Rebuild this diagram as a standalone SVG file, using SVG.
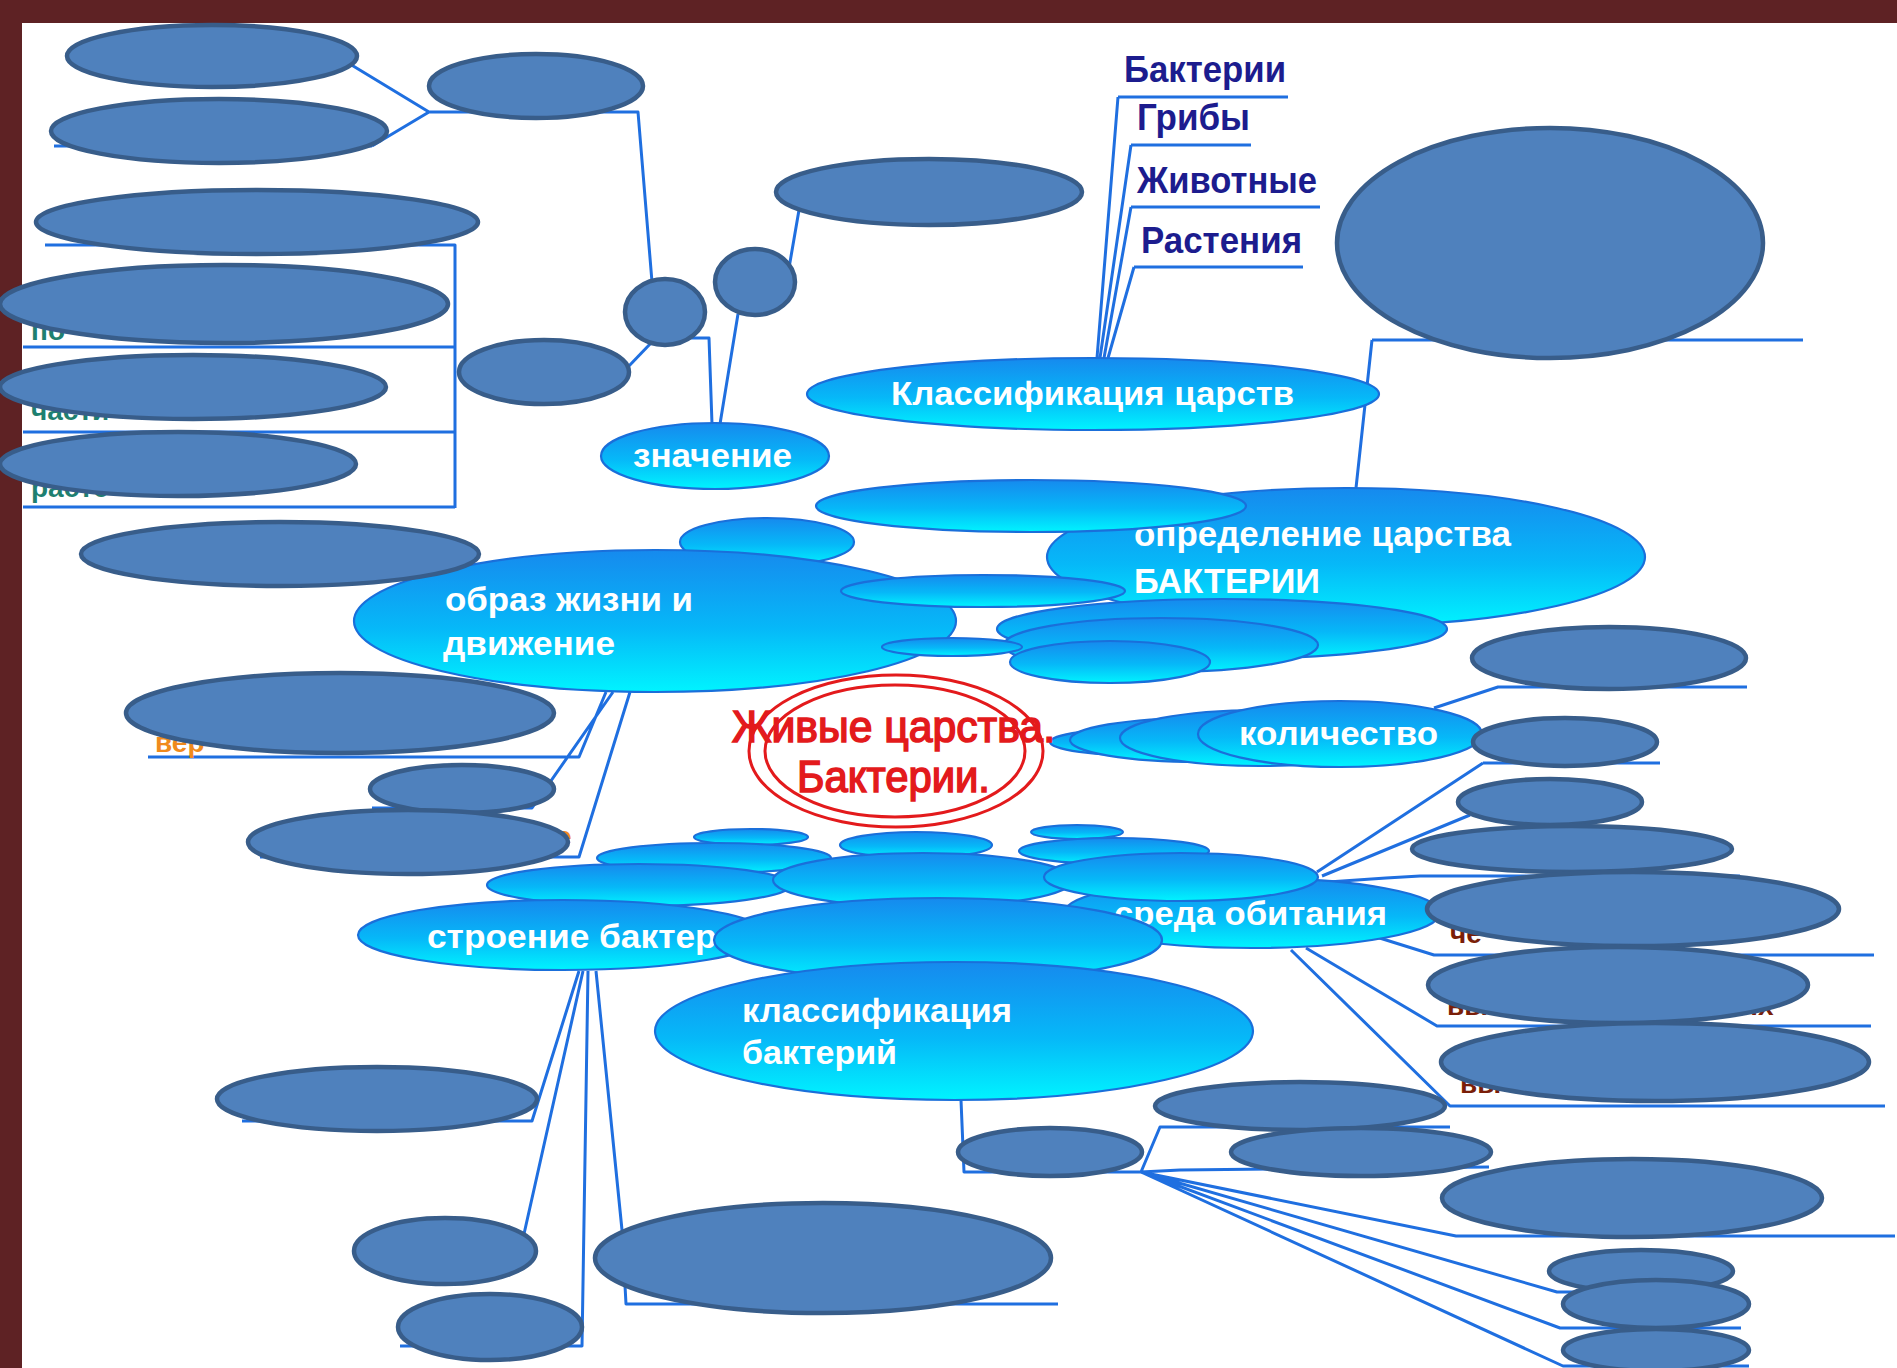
<svg xmlns="http://www.w3.org/2000/svg" width="1897" height="1368" viewBox="0 0 1897 1368">
<defs>
<linearGradient id="g" x1="0" y1="0" x2="0" y2="1">
<stop offset="0" stop-color="#168AEE"/>
<stop offset="0.55" stop-color="#06B8F8"/>
<stop offset="1" stop-color="#00F4FF"/>
</linearGradient>
<style>
.cov{fill:#4F81BD;stroke:#385D8A;stroke-width:4.5}
.bub{fill:url(#g);stroke:#1A6FDA;stroke-width:2.2}
.con{fill:none;stroke:#1F6FE0;stroke-width:3;stroke-linejoin:round}
.lbl{font-family:"Liberation Sans",Arial,sans-serif;font-weight:bold;fill:#FFFFFF;font-size:33px}
.nav{font-family:"Liberation Sans",Arial,sans-serif;font-weight:bold;fill:#1C1C8E;font-size:36px}
.frg{font-family:"Liberation Sans",Arial,sans-serif;font-weight:bold;font-size:28px}
.red{font-family:"Liberation Sans",Arial,sans-serif;fill:#E31A1C;stroke:#E31A1C;stroke-width:1.6;font-size:44px}
</style>
</defs>
<rect x="0" y="0" width="1897" height="1368" fill="#5E2224"/>
<rect x="22" y="23" width="1875" height="1345" fill="#FFFFFF"/>

<g id="connectors">
<path class="con" d="M340,58 L429,112 M372,146 L429,112 M54,146 L372,146 M429,112 L638,112 L652,282"/>
<path class="con" d="M627,368 L652,342"/>
<path class="con" d="M45,245 L455,245 L455,508 M23,347 L455,347 M23,432 L455,432 M23,507 L455,507"/>
<path class="con" d="M688,338 L709,338 L712,424 M738,314 L720,424 M799,210 L789,268"/>
<path class="con" d="M1118,97 L1288,97 M1131,145 L1251,145 M1131,207 L1320,207 M1134,267 L1303,267"/>
<path class="con" d="M1118,97 L1097,358 M1131,145 L1100,358 M1131,207 L1104,358 M1134,267 L1108,358"/>
<path class="con" d="M1372,340 L1803,340 M1372,340 L1356,488"/>
<path class="con" d="M606,692 L579,757 L148,757 M613,692 L532,808 L372,808 M630,692 L579,857 L260,857"/>
<path class="con" d="M1434,708 L1498,687 L1747,687 M1483,763 L1660,763 M1483,763 L1317,872 M1470,815 L1322,876"/>
<path class="con" d="M1328,882 L1386,878 L1420,876 L1740,876 M1370,935 L1434,955 L1874,955 M1306,948 L1437,1026 L1871,1026 M1291,950 L1450,1106 L1885,1106"/>
<path class="con" d="M579,971 L532,1121 L242,1121 M583,971 L524,1234 M588,971 L582,1346 L400,1346 M596,971 L622,1230 L626,1304 L1058,1304"/>
<path class="con" d="M961,1100 L964,1172 L1141,1172 M1141,1172 L1160,1127 L1450,1127 M1141,1172 L1180,1170 L1489,1167 M1141,1172 L1456,1236 L1895,1236 M1141,1172 L1557,1292 L1727,1292 M1141,1172 L1560,1328 L1741,1328 M1141,1172 L1563,1366 L1749,1366"/>
</g>

<g id="node-kingdoms">
<text class="nav" x="1124" y="82" textLength="162" lengthAdjust="spacingAndGlyphs">Бактерии</text>
<text class="nav" x="1137" y="130" textLength="113" lengthAdjust="spacingAndGlyphs">Грибы</text>
<text class="nav" x="1137" y="193" textLength="180" lengthAdjust="spacingAndGlyphs">Животные</text>
<text class="nav" x="1141" y="253" textLength="161" lengthAdjust="spacingAndGlyphs">Растения</text>
</g>

<g id="node-klassifikatsiya-tsarstv">
<ellipse class="bub" cx="1093" cy="394" rx="286" ry="36"/>
<text class="lbl" x="891" y="405" textLength="403" lengthAdjust="spacingAndGlyphs">Классификация царств</text>
</g>

<g id="node-znachenie">
<ellipse class="bub" cx="715" cy="456" rx="114" ry="33"/>
<text class="lbl" x="633" y="467" textLength="159" lengthAdjust="spacingAndGlyphs">значение</text>
</g>

<g id="node-upper-cluster">
<ellipse class="bub" cx="767" cy="542" rx="87" ry="24"/>
</g>

<g id="node-opredelenie">
<ellipse class="bub" cx="1346" cy="557" rx="299" ry="69"/>
<text class="lbl" style="font-size:35px" x="1134" y="546" textLength="377" lengthAdjust="spacingAndGlyphs">определение царства</text>
<text class="lbl" style="font-size:35px" x="1134" y="593" textLength="186" lengthAdjust="spacingAndGlyphs">БАКТЕРИИ</text>
</g>

<g id="node-cluster-mid">
<ellipse class="bub" cx="1031" cy="506" rx="215" ry="26"/>
<ellipse class="bub" cx="1222" cy="629" rx="225" ry="30"/>
<ellipse class="bub" cx="1161" cy="645" rx="157" ry="27"/>
<ellipse class="bub" cx="1110" cy="662" rx="100" ry="21"/>
</g>

<g id="node-obraz-zhizni">
<ellipse class="bub" cx="655" cy="621" rx="301" ry="71"/>
<text class="lbl" x="445" y="611" textLength="248" lengthAdjust="spacingAndGlyphs">образ жизни и</text>
<text class="lbl" x="443" y="655" textLength="172" lengthAdjust="spacingAndGlyphs">движение</text>
<ellipse class="bub" cx="983" cy="591" rx="142" ry="16"/>
<ellipse class="bub" cx="952" cy="647" rx="70" ry="9"/>
</g>

<g id="node-kolichestvo">
<ellipse class="bub" cx="1150" cy="742" rx="100" ry="14"/>
<ellipse class="bub" cx="1200" cy="740" rx="130" ry="22"/>
<ellipse class="bub" cx="1260" cy="738" rx="140" ry="28"/>
<ellipse class="bub" cx="1340" cy="734" rx="142" ry="33"/>
<text class="lbl" x="1239" y="745" textLength="199" lengthAdjust="spacingAndGlyphs">количество</text>
</g>

<g id="node-center">
<ellipse cx="896" cy="751" rx="147" ry="76" fill="none" stroke="#E31A1C" stroke-width="3"/>
<ellipse cx="895" cy="751" rx="130" ry="66" fill="none" stroke="#E31A1C" stroke-width="3"/>
<text class="red" x="732" y="742" textLength="323" lengthAdjust="spacingAndGlyphs">Живые царства.</text>
<text class="red" x="797" y="792" textLength="193" lengthAdjust="spacingAndGlyphs">Бактерии.</text>
</g>

<g id="node-lower-cluster">
<ellipse class="bub" cx="751" cy="837" rx="57" ry="8"/>
<ellipse class="bub" cx="714" cy="858" rx="117" ry="15"/>
<ellipse class="bub" cx="916" cy="845" rx="76" ry="13"/>
<ellipse class="bub" cx="1077" cy="832" rx="46" ry="7"/>
<ellipse class="bub" cx="1114" cy="851" rx="95" ry="13"/>
<ellipse class="bub" cx="639" cy="885" rx="152" ry="21"/>
<ellipse class="bub" cx="923" cy="880" rx="150" ry="27"/>
</g>

<g id="node-sreda">
<ellipse class="bub" cx="1252" cy="913" rx="188" ry="35"/>
<text class="lbl" x="1114" y="925" textLength="273" lengthAdjust="spacingAndGlyphs">среда обитания</text>
<ellipse class="bub" cx="1181" cy="877" rx="137" ry="24"/>
</g>

<g id="node-stroenie">
<ellipse class="bub" cx="563" cy="935" rx="205" ry="35"/>
<text class="lbl" x="427" y="948" textLength="333" lengthAdjust="spacingAndGlyphs">строение бактерий</text>
<ellipse class="bub" cx="938" cy="940" rx="224" ry="42"/>
</g>

<g id="node-klassifikatsiya-bakteriy">
<ellipse class="bub" cx="954" cy="1031" rx="299" ry="69"/>
<text class="lbl" x="742" y="1022" textLength="270" lengthAdjust="spacingAndGlyphs">классификация</text>
<text class="lbl" x="742" y="1064" textLength="155" lengthAdjust="spacingAndGlyphs">бактерий</text>
</g>

<g id="fragments">
<text class="frg" fill="#1E8070" x="31" y="340">по</text>
<text class="frg" fill="#1E8070" x="31" y="420">части</text>
<text class="frg" fill="#1E8070" x="31" y="497">расте</text>
<text class="frg" fill="#F08A1C" x="155" y="752">вер</text>
<text class="frg" fill="#F08A1C" x="556" y="846">е</text>
<text class="frg" fill="#7A1E08" x="1450" y="943">че</text>
<text class="frg" fill="#7A1E08" x="1447" y="1015">вы</text>
<text class="frg" fill="#7A1E08" x="1734" y="1015">ых</text>
<text class="frg" fill="#7A1E08" x="1460" y="1093">вы</text>
</g>

<g id="covers">
<ellipse class="cov" cx="212" cy="56" rx="145" ry="31"/>
<ellipse class="cov" cx="219" cy="131" rx="168" ry="32"/>
<ellipse class="cov" cx="536" cy="86" rx="107" ry="32"/>
<ellipse class="cov" cx="665" cy="312" rx="40" ry="33"/>
<ellipse class="cov" cx="755" cy="282" rx="40" ry="33"/>
<ellipse class="cov" cx="929" cy="192" rx="153" ry="33"/>
<ellipse class="cov" cx="544" cy="372" rx="85" ry="32"/>
<ellipse class="cov" cx="257" cy="222" rx="221" ry="32"/>
<ellipse class="cov" cx="224" cy="304" rx="224" ry="39"/>
<ellipse class="cov" cx="193" cy="387" rx="193" ry="32"/>
<ellipse class="cov" cx="178" cy="464" rx="178" ry="32"/>
<ellipse class="cov" cx="280" cy="554" rx="199" ry="32"/>
<ellipse class="cov" cx="1550" cy="243" rx="213" ry="115"/>
<ellipse class="cov" cx="340" cy="713" rx="214" ry="40"/>
<ellipse class="cov" cx="462" cy="789" rx="92" ry="24"/>
<ellipse class="cov" cx="408" cy="842" rx="160" ry="32"/>
<ellipse class="cov" cx="1609" cy="658" rx="137" ry="31"/>
<ellipse class="cov" cx="1565" cy="742" rx="92" ry="24"/>
<ellipse class="cov" cx="1550" cy="802" rx="92" ry="23"/>
<ellipse class="cov" cx="1572" cy="849" rx="160" ry="23"/>
<ellipse class="cov" cx="1633" cy="909" rx="206" ry="37"/>
<ellipse class="cov" cx="1618" cy="985" rx="190" ry="38"/>
<ellipse class="cov" cx="1655" cy="1062" rx="214" ry="39"/>
<ellipse class="cov" cx="377" cy="1099" rx="160" ry="32"/>
<ellipse class="cov" cx="445" cy="1251" rx="91" ry="33"/>
<ellipse class="cov" cx="490" cy="1327" rx="92" ry="33"/>
<ellipse class="cov" cx="823" cy="1258" rx="228" ry="55"/>
<ellipse class="cov" cx="1300" cy="1106" rx="145" ry="24"/>
<ellipse class="cov" cx="1361" cy="1152" rx="130" ry="24"/>
<ellipse class="cov" cx="1050" cy="1152" rx="92" ry="24"/>
<ellipse class="cov" cx="1632" cy="1198" rx="190" ry="39"/>
<ellipse class="cov" cx="1641" cy="1271" rx="92" ry="21"/>
<ellipse class="cov" cx="1656" cy="1304" rx="93" ry="24"/>
<ellipse class="cov" cx="1656" cy="1350" rx="93" ry="21"/>
</g>
</svg>
